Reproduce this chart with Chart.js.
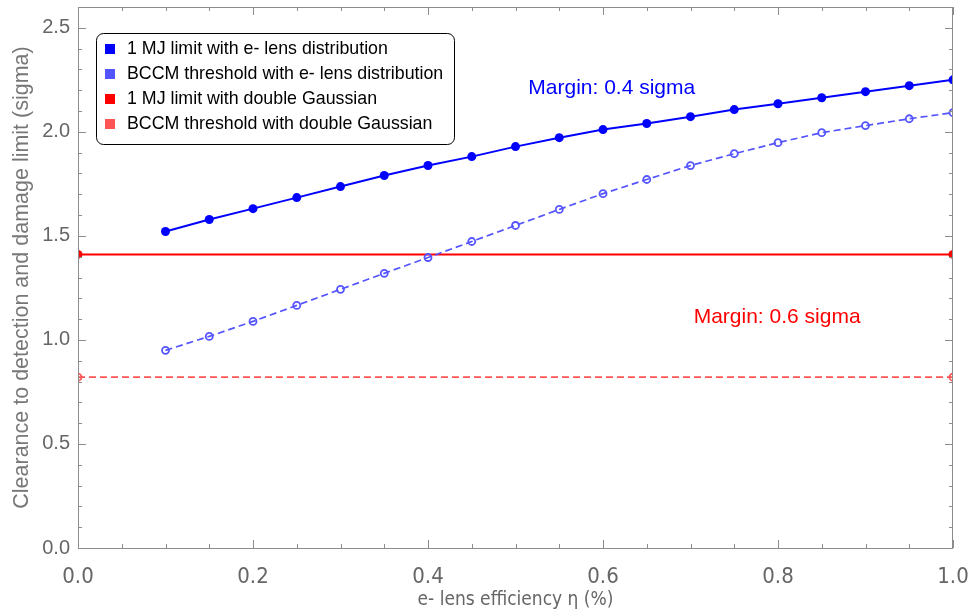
<!DOCTYPE html>
<html>
<head>
<meta charset="utf-8">
<script src="https://cdn.jsdelivr.net/npm/chart.js@4"></script>
<style>
  html, body { margin: 0; padding: 0; background: #fff; }
  #wrap { width: 971px; height: 611px; }
</style>
</head>
<body>
<div id="wrap"><canvas id="chart"></canvas></div>
<script>
// e- lens efficiency values (x)
const efficiency = [0.1, 0.15, 0.2, 0.25, 0.3, 0.35, 0.4, 0.45, 0.5, 0.55, 0.6, 0.65, 0.7, 0.75, 0.8, 0.85, 0.9, 0.95, 1.0];
// 1 MJ limit with e- lens distribution
const mjLensValues = [1.521, 1.579, 1.631, 1.684, 1.737, 1.790, 1.838, 1.881, 1.929, 1.972, 2.011, 2.040, 2.073, 2.107, 2.135, 2.164, 2.193, 2.222, 2.250];
// BCCM threshold with e- lens distribution
const bccmLensValues = [0.950, 1.017, 1.089, 1.166, 1.243, 1.320, 1.396, 1.473, 1.550, 1.627, 1.703, 1.771, 1.838, 1.895, 1.948, 1.996, 2.030, 2.063, 2.092];
// double Gaussian reference levels (flat lines across 0..1)
const gaussX = [0.0, 1.0];
const mjGaussValue = 1.411;
const bccmGaussValue = 0.821;

const xTickLabels = ['0.0', '0.2', '0.4', '0.6', '0.8', '1.0'];
const yTickLabels = ['0.0', '0.5', '1.0', '1.5', '2.0', '2.5'];

const seriesNames = [
    '1 MJ limit with e- lens distribution',
    'BCCM threshold with e- lens distribution',
    '1 MJ limit with double Gaussian',
    'BCCM threshold with double Gaussian'
];
const seriesColors = ['#0000ff', '#5555ff', '#ff0000', '#ff5555'];

const annotations = [
    { text: 'Margin: 0.4 sigma', x: 0.61, y: 2.212, color: '#0000ff' },
    { text: 'Margin: 0.6 sigma', x: 0.799, y: 1.108, color: '#ff0000' }
];

const toPoints = (xs, ys) => xs.map((x, i) => ({ x: x, y: ys[i] }));

const FONT = '"Liberation Sans", Arial, sans-serif';
const NARROW = '"Liberation Sans Narrow", "Arial Narrow", "DejaVu Sans Condensed", sans-serif';

// frame with inward ticks, legend box and text labels
const framePlugin = {
    id: 'frame',
    afterDraw(chart) {
        const ctx = chart.ctx;
        const a = chart.chartArea;
        const xs = chart.scales.x, ys = chart.scales.y;
        ctx.save();
        ctx.strokeStyle = '#8c8c8c';
        ctx.lineWidth = 1;
        ctx.strokeRect(Math.round(a.left) + 0.5, Math.round(a.top) + 0.5, Math.round(a.right - a.left) - 1, Math.round(a.bottom - a.top));
        ctx.beginPath();
        for (let i = 0; i <= 20; i++) {
            const v = i * 0.05;
            const px = Math.round(xs.getPixelForValue(v)) + 0.5;
            const len = (i % 4 === 0) ? 8 : 4;
            ctx.moveTo(px, a.bottom); ctx.lineTo(px, a.bottom - len);
            ctx.moveTo(px, a.top); ctx.lineTo(px, a.top + len);
        }
        for (let i = 0; i <= 26; i++) {
            const v = i * 0.1;
            const py = Math.round(ys.getPixelForValue(v)) + 0.5;
            const len = (i % 5 === 0) ? 8 : 4;
            ctx.moveTo(a.left, py); ctx.lineTo(a.left + len, py);
            ctx.moveTo(a.right, py); ctx.lineTo(a.right - len, py);
        }
        ctx.stroke();

        // annotations
        ctx.font = '21px ' + FONT;
        ctx.textAlign = 'center';
        ctx.textBaseline = 'middle';
        annotations.forEach(an => {
            ctx.fillStyle = an.color;
            ctx.fillText(an.text, xs.getPixelForValue(an.x), ys.getPixelForValue(an.y));
        });

        // legend
        const lx = 96.5, ly = 33.5, lw = 358, lh = 111, r = 7;
        ctx.fillStyle = '#fff';
        ctx.strokeStyle = '#000';
        ctx.beginPath();
        ctx.roundRect(lx, ly, lw, lh, r);
        ctx.fill();
        ctx.stroke();
        ctx.font = '17.8px ' + FONT;
        ctx.textAlign = 'left';
        seriesNames.forEach((name, i) => {
            const cy = 49 + i * 25;
            ctx.fillStyle = seriesColors[i];
            ctx.fillRect(105, cy - 5, 10, 10);
            ctx.fillStyle = '#000';
            ctx.fillText(name, 127, cy);
        });
        ctx.restore();
    }
};

// let layout.padding alone place the plot frame
function noOverflow(scale) {
    scale.paddingTop = 0;
    scale.paddingBottom = 0;
    scale.paddingLeft = 0;
    scale.paddingRight = 0;
}

new Chart(document.getElementById('chart').getContext('2d'), {
    type: 'line',
    data: {
        datasets: [{
            label: seriesNames[0],
            data: toPoints(efficiency, mjLensValues),
            borderColor: seriesColors[0],
            backgroundColor: seriesColors[0],
            borderWidth: 2,
            pointRadius: 4.5,
            pointBorderWidth: 0,
            tension: 0
        }, {
            label: seriesNames[1],
            data: toPoints(efficiency, bccmLensValues),
            borderColor: seriesColors[1],
            backgroundColor: 'rgba(0,0,0,0)',
            borderWidth: 1.7,
            borderDash: [7, 4],
            pointRadius: 3.5,
            pointBorderWidth: 1.8,
            tension: 0
        }, {
            label: seriesNames[2],
            data: toPoints(gaussX, [mjGaussValue, mjGaussValue]),
            borderColor: seriesColors[2],
            backgroundColor: seriesColors[2],
            borderWidth: 2,
            pointRadius: 4.5,
            pointBorderWidth: 0
        }, {
            label: seriesNames[3],
            data: toPoints(gaussX, [bccmGaussValue, bccmGaussValue]),
            borderColor: seriesColors[3],
            backgroundColor: 'rgba(0,0,0,0)',
            borderWidth: 1.7,
            borderDash: [7, 4],
            pointRadius: 3.5,
            pointBorderWidth: 1.8
        }]
    },
    options: {
        responsive: true,
        maintainAspectRatio: false,
        animation: false,
        layout: { padding: { top: 7, right: 18, left: 0, bottom: 0 } },
        plugins: {
            legend: { display: false },
            tooltip: { enabled: false }
        },
        scales: {
            x: {
                type: 'linear',
                min: 0,
                max: 1,
                grid: { display: false, drawTicks: false },
                border: { display: false },
                afterFit(scale) { scale.height = 63; noOverflow(scale); },
                ticks: {
                    stepSize: 0.2,
                    includeBounds: false,
                    maxRotation: 0,
                    padding: 16,
                    color: '#666',
                    font: { family: NARROW, size: 22 },
                    callback: (v) => xTickLabels[Math.round(v / 0.2)]
                },
                title: {
                    display: true,
                    text: 'e- lens efficiency η (%)',
                    color: '#666',
                    font: { family: NARROW, size: 19 },
                    padding: { top: 0, bottom: 0 }
                }
            },
            y: {
                type: 'linear',
                min: 0,
                max: 2.6,
                grid: { display: false, drawTicks: false },
                border: { display: false },
                afterFit(scale) { scale.width = 78; noOverflow(scale); },
                ticks: {
                    stepSize: 0.5,
                    includeBounds: false,
                    padding: 8,
                    color: '#666',
                    font: { family: FONT, size: 20 },
                    callback: (v) => yTickLabels[Math.round(v / 0.5)]
                },
                title: {
                    display: true,
                    text: 'Clearance to detection and damage limit (sigma)',
                    color: '#777',
                    font: { family: FONT, size: 21.5 },
                    padding: { top: 9, bottom: 0 }
                }
            }
        }
    },
    plugins: [framePlugin]
});
</script>
</body>
</html>
